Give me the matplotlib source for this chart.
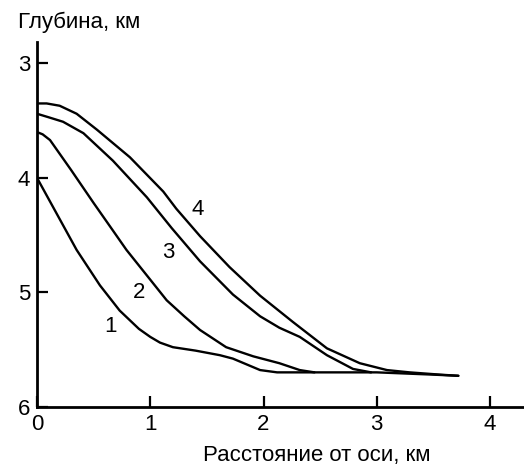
import matplotlib
matplotlib.use('Agg')
import matplotlib.pyplot as plt

# distance from axis, km / depth, km for each curve
x1 = [0, 0.1, 0.2, 0.35, 0.556, 0.73, 0.9, 1.0, 1.086, 1.2, 1.4, 1.615, 1.73, 1.85, 1.97, 2.12, 2.5, 3.0, 3.5, 3.72]
y1 = [4.0, 4.18, 4.36, 4.63, 4.94, 5.16, 5.32, 5.39, 5.44, 5.48, 5.51, 5.55, 5.58, 5.63, 5.68, 5.70, 5.70, 5.70, 5.72, 5.73]

x2 = [0, 0.05, 0.115, 0.3, 0.5, 0.67, 0.79, 1.0, 1.145, 1.3, 1.44, 1.67, 1.91, 2.14, 2.32, 2.45]
y2 = [3.6, 3.62, 3.67, 3.93, 4.22, 4.46, 4.63, 4.89, 5.07, 5.21, 5.33, 5.48, 5.56, 5.62, 5.68, 5.70]

x3 = [0, 0.1, 0.23, 0.41, 0.67, 0.97, 1.19, 1.44, 1.73, 1.97, 2.14, 2.32, 2.56, 2.79, 2.95]
y3 = [3.44, 3.47, 3.51, 3.61, 3.85, 4.17, 4.44, 4.73, 5.02, 5.21, 5.31, 5.39, 5.55, 5.67, 5.70]

x4 = [0, 0.085, 0.2, 0.35, 0.53, 0.82, 1.115, 1.23, 1.44, 1.7, 1.97, 2.26, 2.56, 2.85, 3.09, 3.29, 3.56, 3.72]
y4 = [3.35, 3.35, 3.37, 3.44, 3.58, 3.82, 4.12, 4.27, 4.51, 4.78, 5.03, 5.26, 5.49, 5.62, 5.68, 5.70, 5.72, 5.73]

curve_labels = ['1', '2', '3', '4']
label_x = [0.65, 0.90, 1.16, 1.42]
label_y = [5.30, 5.00, 4.65, 4.28]

xticks = [0, 1, 2, 3, 4]
yticks = [3, 4, 5, 6]

plt.rcParams['font.family'] = ['Liberation Sans', 'DejaVu Sans']

fig = plt.figure(figsize=(5.24, 4.68), dpi=100)
ax = fig.add_axes([0.0706, 0.131, 0.9294, 0.78])

for xs, ys in [(x1, y1), (x2, y2), (x3, y3), (x4, y4)]:
    ax.plot(xs, ys, color='black', linewidth=1.7, solid_capstyle='round')

for t, lx, ly in zip(curve_labels, label_x, label_y):
    ax.text(lx, ly, t, fontsize=16, ha='center', va='center')

ax.set_xlim(0, 4.3)
ax.set_ylim(6, 2.81)
ax.set_xticks(xticks)
ax.set_yticks(yticks)
ax.tick_params(direction='in', length=8, width=1.6, labelsize=16, pad=5)
for s in ['top', 'right']:
    ax.spines[s].set_visible(False)
for s in ['left', 'bottom']:
    ax.spines[s].set_linewidth(2)

fig.text(18 / 524, 1 - 28 / 468, 'Глубина, км', fontsize=16, ha='left', va='baseline')
fig.text(317 / 524, 1 - 456 / 468, 'Расстояние от оси, км', fontsize=16, ha='center', va='center')

fig.savefig('out.png', dpi=100)
